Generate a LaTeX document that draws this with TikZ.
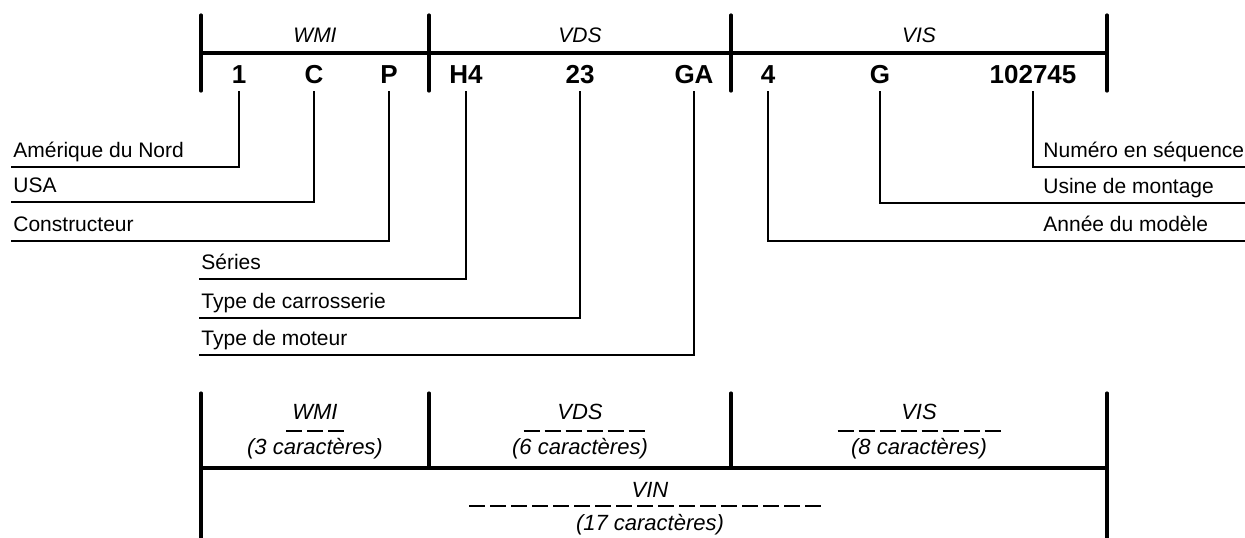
\documentclass[tikz,border=0pt]{standalone}
\usepackage{fontspec}
\setmainfont{Liberation Sans}
\usetikzlibrary{positioning}
\newcommand{\dashrow}[1]{\rule{8pt}{0.55pt}\foreach \i in {2,...,#1}{\hspace{2.5pt}\rule{8pt}{0.55pt}}}

\begin{document}
\begin{tikzpicture}[x=0.5pt,y=-0.5pt,font=\fontsize{10.5}{12}\selectfont,
    bar/.style={line width=1.6pt,line cap=round},
    lead/.style={line width=0.7pt},
    hdr/.style={font=\fontsize{10.5}{12}\selectfont\itshape},
    chr/.style={font=\fontsize{13}{15}\selectfont\bfseries},
    lbl/.style={inner xsep=1pt,inner ysep=4.5pt,text depth=0pt},
    cnt/.style={font=\fontsize{11}{13}\selectfont\itshape},
    dsh/.style={inner sep=0pt}]
\useasboundingbox (0,0) rectangle (1245,537);

% top: the VIN split up
\draw[bar] (201,53) -- (1107,53);
\foreach \x in {201,429,731,1107}
  \draw[bar] (\x,15) -- (\x,91);
\node[hdr] (wmi) at (315,35) {WMI};
\node[hdr] (vds) at (580,35) {VDS};
\node[hdr] (vis) at (919,35) {VIS};

\node[chr] (ch1) at (239,75) {1};
\node[chr] (ch2) at (314,75) {C};
\node[chr] (ch3) at (389,75) {P};
\node[chr] (ch4) at (466,75) {H4};
\node[chr] (ch5) at (580,75) {23};
\node[chr] (ch6) at (694,75) {GA};
\node[chr] (ch7) at (768,75) {4};
\node[chr] (ch8) at (880,75) {G};
\node[chr] (ch9) at (1033,75) {102745};

% leaders to the left
\coordinate (e1) at (11,167);
\coordinate (e2) at (11,202);
\coordinate (e3) at (11,241);
\coordinate (e4) at (199,279);
\coordinate (e5) at (199,318);
\coordinate (e6) at (199,355);
\node[lbl,above right=0pt of e1] (l1) {Amérique du Nord};
\node[lbl,above right=0pt of e2] (l2) {USA};
\node[lbl,above right=0pt of e3] (l3) {Constructeur};
\node[lbl,above right=0pt of e4] (l4) {Séries};
\node[lbl,above right=0pt of e5] (l5) {Type de carrosserie};
\node[lbl,above right=0pt of e6] (l6) {Type de moteur};
\draw[lead] (ch1 |- 0,91) |- (e1);
\draw[lead] (ch2 |- 0,91) |- (e2);
\draw[lead] (ch3 |- 0,91) |- (e3);
\draw[lead] (ch4 |- 0,91) |- (e4);
\draw[lead] (ch5 |- 0,91) |- (e5);
\draw[lead] (ch6 |- 0,91) |- (e6);

% leaders to the right
\coordinate (e7) at (1245,241);
\coordinate (e8) at (1245,203);
\coordinate (e9) at (1245,167);
\node[lbl,anchor=south west] (l7) at (1041,241) {Année du modèle};
\node[lbl,anchor=south west] (l8) at (1041,203) {Usine de montage};
\node[lbl,anchor=south west] (l9) at (1041,167) {Numéro en séquence};
\draw[lead] (ch7 |- 0,91) |- (e7);
\draw[lead] (ch8 |- 0,91) |- (e8);
\draw[lead] (ch9 |- 0,91) |- (e9);

% bottom: character counts
\draw[bar] (201,393) -- (201,540);
\draw[bar] (1107,393) -- (1107,540);
\draw[bar] (429,393) -- (429,468);
\draw[bar] (731,393) -- (731,468);
\draw[bar] (201,468) -- (1107,468);

\node[cnt] (wmib) at (315,412) {WMI};
\node[dsh] (wmid) at (315,431) {\dashrow{3}};
\node[cnt] (wmic) at (315,449) {(3 caractères)};
\node[cnt] (vdsb) at (580,412) {VDS};
\node[dsh] (vdsd) at (584,431) {\dashrow{6}};
\node[cnt] (vdsc) at (580,449) {(6 caractères)};
\node[cnt] (visb) at (919,412) {VIS};
\node[dsh] (visd) at (919,431) {\dashrow{8}};
\node[cnt] (visc) at (919,449) {(8 caractères)};
\node[cnt] (vinb) at (650,490) {VIN};
\node[dsh] (vind) at (645,506) {\dashrow{17}};
\node[cnt] (vinc) at (650,525) {(17 caractères)};
\end{tikzpicture}
\end{document}
